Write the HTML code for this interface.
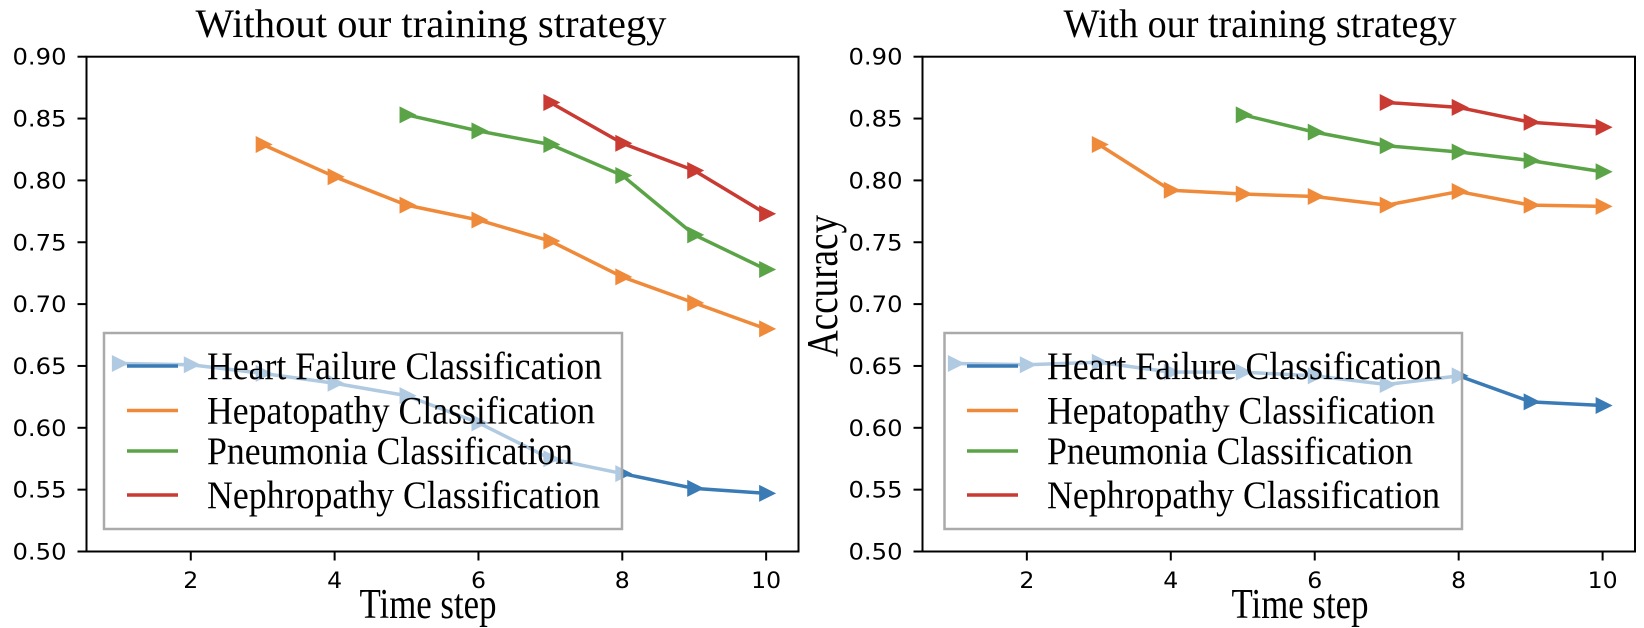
<!DOCTYPE html>
<html><head><meta charset="utf-8"><style>
html,body{margin:0;padding:0;background:#fff;}
svg{display:block;}
</style></head><body>
<svg id="chart" width="1644" height="628" xmlns="http://www.w3.org/2000/svg"></svg>
<script>
const xTicks = [2, 4, 6, 8, 10];
const yTicks = [0.50, 0.55, 0.60, 0.65, 0.70, 0.75, 0.80, 0.85, 0.90];
const yTickLabels = ["0.50","0.55","0.60","0.65","0.70","0.75","0.80","0.85","0.90"];
const seriesNames = ["Heart Failure Classification","Hepatopathy Classification","Pneumonia Classification","Nephropathy Classification"];
const seriesKeys = ["heart-failure","hepatopathy","pneumonia","nephropathy"];
const seriesStart = [1, 3, 5, 7];
const leftHeart = [0.652,0.651,0.644,0.636,0.626,0.604,0.575,0.563,0.551,0.547];
const leftHep = [0.829,0.803,0.780,0.768,0.751,0.722,0.701,0.680];
const leftPneu = [0.853,0.840,0.829,0.804,0.756,0.728];
const leftNeph = [0.863,0.830,0.808,0.773];
const rightHeart = [0.652,0.651,0.653,0.645,0.645,0.642,0.635,0.642,0.621,0.618];
const rightHep = [0.829,0.792,0.789,0.787,0.780,0.791,0.780,0.779];
const rightPneu = [0.853,0.839,0.828,0.823,0.816,0.807];
const rightNeph = [0.863,0.859,0.847,0.843];

const colors = ["#3a7bb6","#ef8a3a","#5aa447","#c93a32"];
const NS = "http://www.w3.org/2000/svg";
const svg = document.getElementById("chart");
function mk(tag, attrs, parent){ const e=document.createElementNS(NS,tag); for(const k in attrs) e.setAttribute(k,attrs[k]); (parent||svg).appendChild(e); return e; }

function drawPanel(p){
  const g = mk("g",{});
  
  
  const xs = v => p.x0 + (v - 0.55)/(9.9)*(p.x1 - p.x0);
  const ys = v => p.y1 - (v - 0.5)/0.4*(p.y1 - p.y0);
  const t = mk("text",{x:p.titleX,y:37,"text-anchor":"middle","font-family":"Liberation Serif, serif","font-size":40,fill:"#000",textLength:p.titleW,lengthAdjust:"spacingAndGlyphs"},g);
  t.textContent = p.title;
  
  
  const all = p.series;
  all.forEach((vals,si)=>{
    const pts = vals.map((v,i)=>[xs(seriesStart[si]+i), ys(v)]);
    const pl = mk("polyline",{points:pts.map(q=>q.join(",")).join(" "),fill:"none",stroke:colors[si],"stroke-width":3.5,"stroke-linejoin":"round"},g);
    
    
    pts.forEach((q,i)=>{
      const m = mk("polygon",{points:`${q[0]-7},${q[1]-8.5} ${q[0]+10},${q[1]} ${q[0]-7},${q[1]+8.5}`,fill:colors[si]},g);
      
      
    });
  });
  const fr = mk("rect",{x:p.x0,y:p.y0,width:p.x1-p.x0,height:p.y1-p.y0,fill:"none",stroke:"#000","stroke-width":2},g);
  
  
  yTicks.forEach((v,i)=>{
    const y = ys(v);
    const tk = mk("line",{x1:p.x0-9,x2:p.x0,y1:y,y2:y,stroke:"#000","stroke-width":2},g);
    
    
    const lb = mk("text",{x:p.x0-20,y:y+8,"text-anchor":"end","font-family":"DejaVu Sans, sans-serif","font-size":22,fill:"#000",textLength:54,lengthAdjust:"spacingAndGlyphs"},g);
    lb.textContent = yTickLabels[i];
    
    
  });
  xTicks.forEach(v=>{
    const x = xs(v);
    const tk = mk("line",{x1:x,x2:x,y1:p.y1,y2:p.y1+9,stroke:"#000","stroke-width":2},g);
    
    
    const s = String(v);
    const lb = mk("text",{x:x,y:588,"text-anchor":"middle","font-family":"DejaVu Sans, sans-serif","font-size":22,fill:"#000",textLength:s.length*15,lengthAdjust:"spacingAndGlyphs"},g);
    lb.textContent = s;
    
    
  });
  const xt = mk("text",{x:p.xlabX,y:618,"text-anchor":"middle","font-family":"Liberation Serif, serif","font-size":42,fill:"#000",textLength:137,lengthAdjust:"spacingAndGlyphs"},g);
  xt.textContent = "Time step";
  
  
  const lg = mk("g",{},g);
  
  
  const lbox = mk("rect",{x:p.lx0,y:333,width:p.lx1-p.lx0,height:196,fill:"#fff","fill-opacity":0.6,stroke:"#aaaaaa","stroke-width":2.5},lg);
  
  
  const rowsY = [366, 410.5, 451, 495];
  seriesNames.forEach((n,si)=>{
    const h = mk("line",{x1:p.hx0,x2:p.hx0+51,y1:rowsY[si],y2:rowsY[si],stroke:colors[si],"stroke-width":3.5},lg);
    
    
    const tx = mk("text",{x:p.tx0,y:rowsY[si]+13,"font-family":"Liberation Serif, serif","font-size":39,fill:"#000",textLength:p.textW[si],lengthAdjust:"spacingAndGlyphs"},lg);
    tx.textContent = n;
    
    
  });
}

drawPanel({name:"left-panel",title:"Without our training strategy",titleX:431,titleW:471,x0:86.5,x1:798.5,y0:56.7,y1:551.5,
  series:[leftHeart,leftHep,leftPneu,leftNeph],xlabX:428,lx0:104,lx1:622,hx0:127,tx0:207,textW:[395,388,366,393]});
drawPanel({name:"right-panel",title:"With our training strategy",titleX:1260,titleW:393,x0:922.5,x1:1635,y0:56.7,y1:551.5,
  series:[rightHeart,rightHep,rightPneu,rightNeph],xlabX:1300,lx0:944.5,lx1:1462,hx0:967,tx0:1047,textW:[395,388,366,393]});

const yl = mk("text",{x:0,y:0,transform:"translate(837,286) rotate(-90)","text-anchor":"middle","font-family":"Liberation Serif, serif","font-size":44,fill:"#000",textLength:142,lengthAdjust:"spacingAndGlyphs"});
yl.textContent = "Accuracy";


</script>
</body></html>
